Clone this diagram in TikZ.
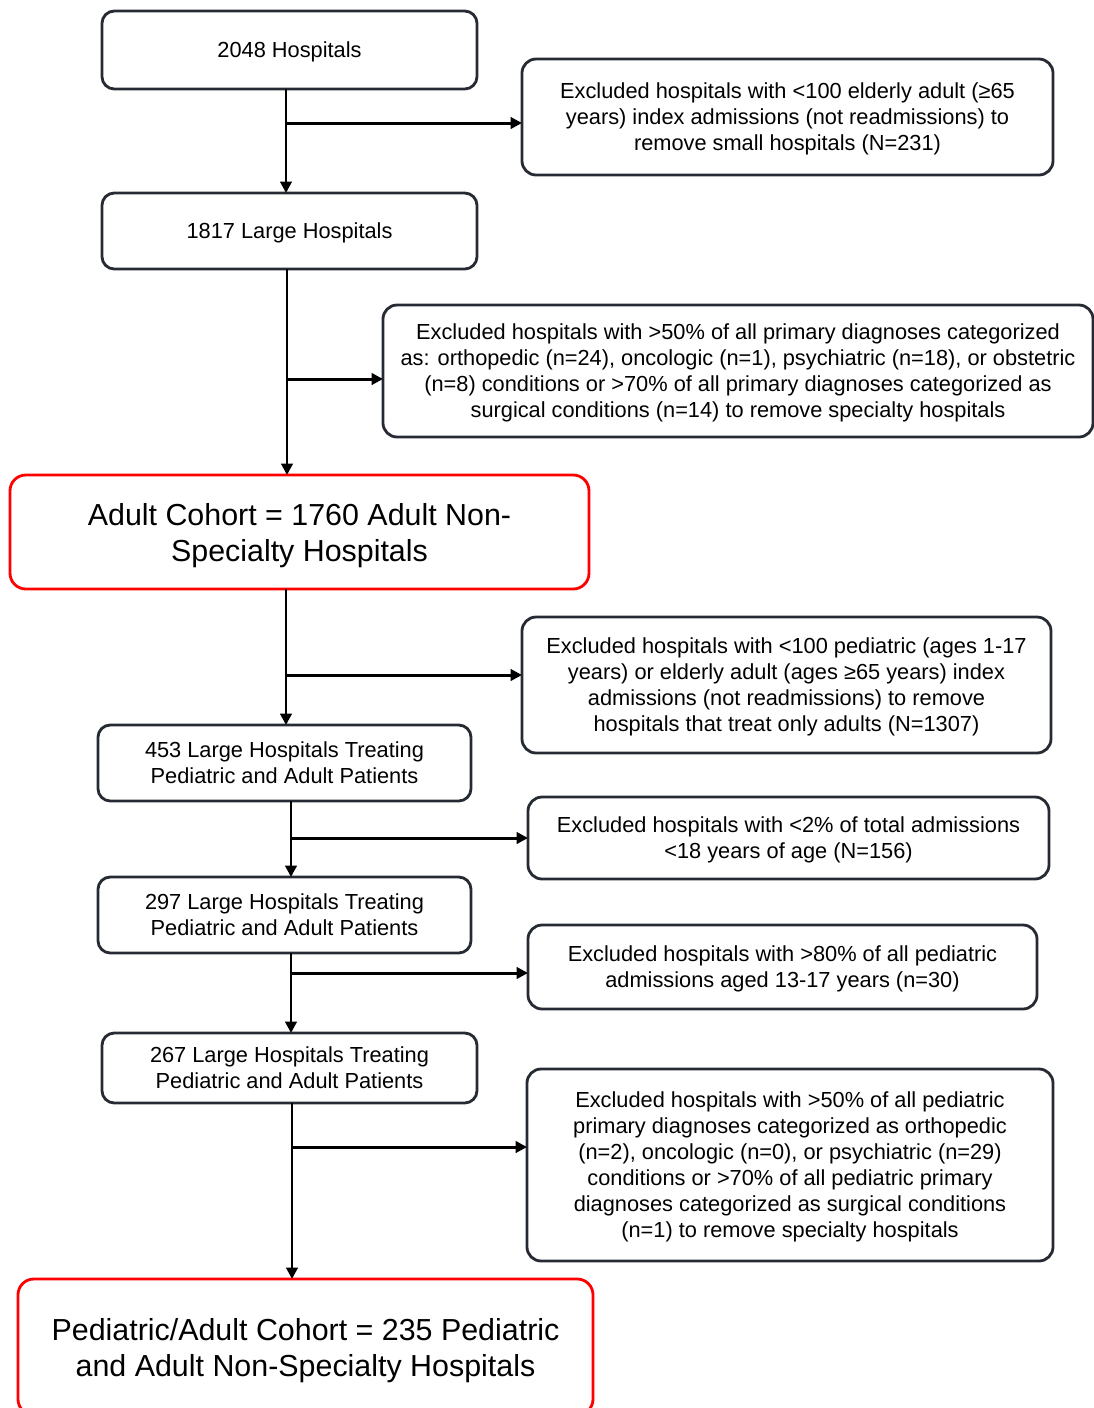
\documentclass[tikz,border=0pt]{standalone}
\usepackage{fontspec}
\setmainfont{Liberation Sans}
\usetikzlibrary{positioning, calc, arrows.meta}
\definecolor{boxline}{HTML}{262B33}

\begin{document}
\begin{tikzpicture}[
  %% main flow boxes
  mbox/.style={
    rectangle, draw=boxline, line width=1.6pt, rounded corners=7pt,
    minimum width=7.5cm, minimum height=1.52cm, align=center,
    fill=white, inner sep=2pt, outer sep=0pt, text depth=0pt,
    font=\fontsize{12.4}{14.8}\selectfont
  },
  %% exclusion boxes (right side)
  ebox/.style={
    rectangle, draw=boxline, line width=1.6pt, rounded corners=8pt,
    align=center, fill=white, inner sep=2pt, outer sep=0pt, text depth=0pt,
    font=\fontsize{12.4}{14.8}\selectfont
  },
  %% cohort boxes (red)
  cbox/.style={
    rectangle, draw=red, line width=1.6pt, rounded corners=9pt,
    align=center, fill=white, inner sep=2pt, outer sep=0pt, text depth=0pt,
    font=\fontsize{17.3}{20.5}\selectfont
  },
  %% arrows
  arr/.style={-{Triangle[length=6.5pt,width=6.5pt]}, line width=1.7pt}
]

\useasboundingbox (0,0) rectangle (21.88,-28.16);

%% ================================================================
%% MAIN FLOW
%% ================================================================
\node[mbox, minimum height=1.56cm] (all) at (5.79,-1.00) {2048 Hospitals};

\node[mbox, below=2.08cm of all] (large) {1817 Large Hospitals};

\node[cbox, minimum width=11.58cm, minimum height=2.28cm,
      below=4.12cm of large, xshift=0.2cm] (adult) {
  Adult Cohort = 1760 Adult Non-\\
  Specialty Hospitals
};

\node[mbox, minimum width=7.46cm, below=2.72cm of adult, xshift=-0.3cm] (ped453) {
  453 Large Hospitals Treating\\
  Pediatric and Adult Patients
};

\node[mbox, minimum width=7.46cm, below=1.52cm of ped453] (ped297) {
  297 Large Hospitals Treating\\
  Pediatric and Adult Patients
};

\node[mbox, minimum height=1.40cm, below=1.6cm of ped297, xshift=0.1cm] (ped267) {
  267 Large Hospitals Treating\\
  Pediatric and Adult Patients
};

\node[cbox, minimum width=11.5cm, minimum height=2.72cm,
      below=3.52cm of ped267, xshift=0.32cm] (pedadult) {
  Pediatric/Adult Cohort = 235 Pediatric\\
  and Adult Non-Specialty Hospitals
};

%% ================================================================
%% EXCLUSIONS
%% ================================================================
\node[ebox, minimum width=10.62cm, minimum height=2.32cm] (excl1) at (15.75,-2.34) {
  Excluded hospitals with <100 elderly adult (≥65\\
  years) index admissions (not readmissions) to\\
  remove small hospitals (N=231)
};

\node[ebox, minimum width=14.2cm, minimum height=2.64cm] (excl2) at (14.76,-7.42) {
  Excluded hospitals with >50\% of all primary diagnoses categorized\\
  as: orthopedic (n=24), oncologic (n=1), psychiatric (n=18), or obstetric\\
  (n=8) conditions or >70\% of all primary diagnoses categorized as\\
  surgical conditions (n=14) to remove specialty hospitals
};

\node[ebox, minimum width=10.58cm, minimum height=2.72cm] (excl3) at (15.73,-13.70) {
  Excluded hospitals with <100 pediatric (ages 1-17\\
  years) or elderly adult (ages ≥65 years) index\\
  admissions (not readmissions) to remove\\
  hospitals that treat only adults (N=1307)
};

\node[ebox, minimum width=10.42cm, minimum height=1.64cm] (excl4) at (15.77,-16.76) {
  Excluded hospitals with <2\% of total admissions\\
  <18 years of age (N=156)
};

\node[ebox, minimum width=10.18cm, minimum height=1.68cm] (excl5) at (15.65,-19.34) {
  Excluded hospitals with >80\% of all pediatric\\
  admissions aged 13-17 years (n=30)
};

\node[ebox, minimum width=10.52cm, minimum height=3.84cm] (excl6) at (15.80,-23.30) {
  Excluded hospitals with >50\% of all pediatric\\
  primary diagnoses categorized as orthopedic\\
  (n=2), oncologic (n=0), or psychiatric (n=29)\\
  conditions or >70\% of all pediatric primary\\
  diagnoses categorized as surgical conditions\\
  (n=1) to remove specialty hospitals
};

%% ================================================================
%% CONNECTORS
%% ================================================================
\coordinate (t1) at ([xshift=-0.07cm]all.south);
\coordinate (t2) at ([xshift=-0.05cm]large.south);
\coordinate (t3) at ([xshift=-0.27cm]adult.south);
\coordinate (t4) at ([xshift=0.13cm]ped453.south);
\coordinate (t5) at ([xshift=0.13cm]ped297.south);
\coordinate (t6) at ([xshift=0.05cm]ped267.south);

\coordinate (b1) at ([yshift=-0.12cm]excl1.west);
\coordinate (b2) at ([yshift=-0.16cm]excl2.west);
\coordinate (b3) at ([yshift=0.2cm]excl3.west);
\coordinate (b4) at (excl4.west);
\coordinate (b5) at ([yshift=-0.12cm]excl5.west);
\coordinate (b6) at ([yshift=0.36cm]excl6.west);

\draw[arr] (t1) -- (t1 |- large.north);
\draw[arr] (t1 |- b1) -- (b1);

\draw[arr] (t2) -- (t2 |- adult.north);
\draw[arr] (t2 |- b2) -- (b2);

\draw[arr] (t3) -- (t3 |- ped453.north);
\draw[arr] (t3 |- b3) -- (b3);

\draw[arr] (t4) -- (t4 |- ped297.north);
\draw[arr] (t4 |- b4) -- (b4);

\draw[arr] (t5) -- (t5 |- ped267.north);
\draw[arr] (t5 |- b5) -- (b5);

\draw[arr] (t6) -- (t6 |- pedadult.north);
\draw[arr] (t6 |- b6) -- (b6);

\end{tikzpicture}
\end{document}
